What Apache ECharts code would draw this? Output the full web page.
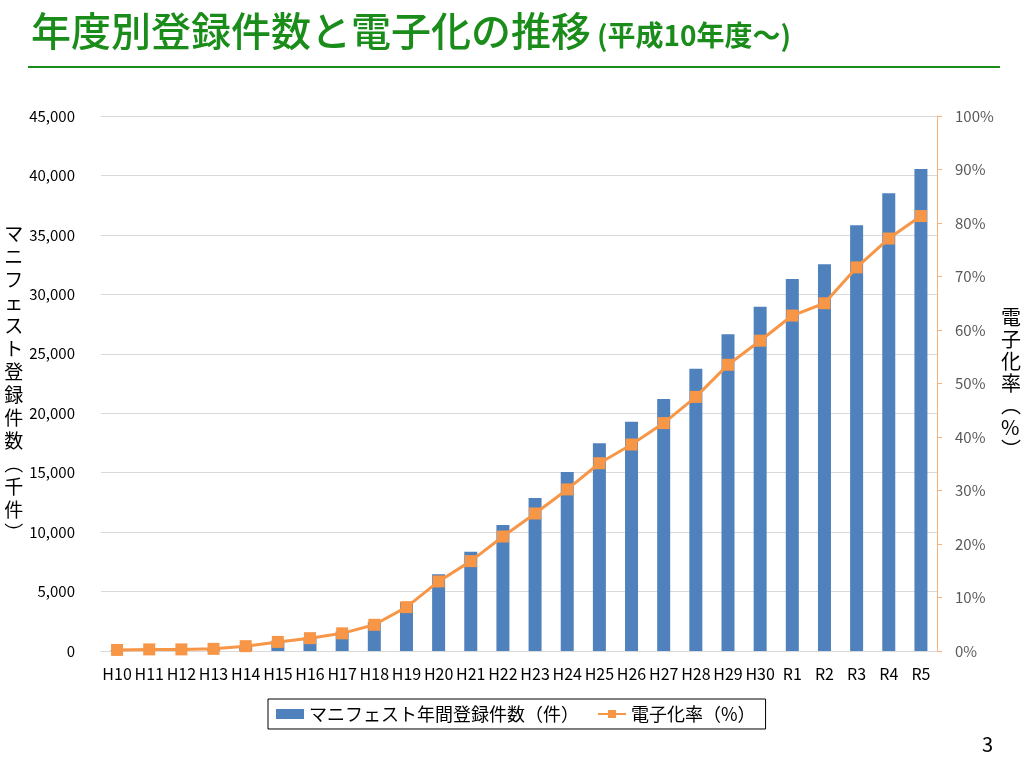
<!DOCTYPE html>
<html>
<head>
<meta charset="utf-8">
<script src="https://cdn.jsdelivr.net/npm/echarts@6/dist/echarts.min.js"></script>
<style>
html, body { margin: 0; padding: 0; background: #fff; }
#chart { width: 1024px; height: 759px; }
</style>
</head>
<body>
<div id="chart"></div>
<script>
const NENDO = ["H10","H11","H12","H13","H14","H15","H16","H17","H18","H19","H20","H21","H22",
"H23","H24","H25","H26","H27","H28","H29","H30","R1","R2","R3","R4","R5"];
// 登録件数（千件）
const TOUROKU = [90,150,160,190,430,870,1190,1650,2430,4100,6450,8350,10600,
12870,15060,17470,19290,21200,23750,26640,28960,31290,32520,35810,38500,40540];
// 電子化率（%）
const DENSHIKA = [0.2,0.3,0.3,0.4,0.9,1.7,2.4,3.3,4.9,8.2,13.0,16.8,21.4,
25.7,30.2,35.1,38.6,42.6,47.5,53.5,58.0,62.7,65.0,71.7,77.1,81.3];

const FONT = '"Noto Sans CJK JP", "Noto Sans", sans-serif';
const tate = s => s.split('').join('\n');

let option = {
    textStyle: { fontFamily: FONT },
    title: {
        left: 26,
        top: 6,
        text: '{a|年度別登録件数と電子化の推移}{b|(平成10年度～)}',
        textStyle: {
            rich: {
                a: { fontSize: 40, color: '#1a8c1a', fontWeight: 500, fontFamily: FONT },
                b: { fontSize: 28, color: '#1a8c1a', fontWeight: 'bold', fontFamily: FONT, padding: [8, 0, 0, 6] }
            }
        }
    },
    graphic: [
        { type: 'line', shape: { x1: 28, y1: 67, x2: 1000, y2: 67 },
          style: { stroke: '#1a8c1a', lineWidth: 2 } },
        { type: 'text', left: 982, top: 734,
          style: { text: '3', fontSize: 20, fill: '#000', fontFamily: FONT } }
    ],
    legend: {
        left: 268,
        top: 699,
        width: 502,
        padding: [6, 10, 6, 8],
        borderColor: '#000',
        borderWidth: 1,
        itemGap: 18,
        itemWidth: 28,
        itemHeight: 10,
        textStyle: { fontSize: 18, color: '#000', fontFamily: FONT },
        data: [
            { name: 'マニフェスト年間登録件数（件）', icon: 'rect' },
            { name: '電子化率（%）' }
        ]
    },
    grid: { left: 101, right: 87, top: 116, bottom: 108, outerBoundsMode: 'none', containLabel: false },
    xAxis: {
        type: 'category',
        data: NENDO,
        axisLine: { lineStyle: { color: '#d9d9d9' } },
        axisTick: { show: false },
        axisLabel: { interval: 0, fontSize: 16, color: '#000', margin: 15, fontFamily: FONT, hideOverlap: false }
    },
    yAxis: [
        {
            type: 'value',
            min: 0, max: 45000, interval: 5000,
            name: tate('マニフェスト登録件数︵千件︶'),
            nameLocation: 'middle',
            nameRotate: 0,
            nameGap: 76,
            nameTextStyle: { fontSize: 19, lineHeight: 23, color: '#000', fontFamily: FONT },
            axisLine: { show: false },
            axisTick: { show: false },
            splitLine: { lineStyle: { color: '#d9d9d9' } },
            axisLabel: {
                fontSize: 15, color: '#000', margin: 26, fontFamily: FONT,
                formatter: v => v.toLocaleString('en-US')
            }
        },
        {
            type: 'value',
            min: 0, max: 100, interval: 10,
            name: tate('電子化率︵%︶'),
            nameLocation: 'middle',
            nameRotate: 0,
            nameGap: 64,
            nameTextStyle: { fontSize: 20, lineHeight: 22, color: '#000', fontFamily: FONT },
            axisLine: { show: true, lineStyle: { color: '#f9b27c', width: 1 } },
            axisTick: { show: true, inside: false, length: 5, lineStyle: { color: '#f9b27c' } },
            splitLine: { show: false },
            axisLabel: { fontSize: 15, color: '#595959', margin: 18, fontFamily: FONT, formatter: '{value}%' }
        }
    ],
    series: [
        {
            name: 'マニフェスト年間登録件数（件）',
            type: 'bar',
            data: TOUROKU,
            barWidth: 13,
            itemStyle: { color: '#4f81bd' }
        },
        {
            name: '電子化率（%）',
            type: 'line',
            yAxisIndex: 1,
            data: DENSHIKA,
            symbol: 'rect',
            symbolSize: 12,
            lineStyle: { color: '#f79646', width: 3 },
            itemStyle: { color: '#f79646' },
            z: 4
        }
    ]
};

var myChart = echarts.init(document.getElementById('chart'));
myChart.setOption(option);
</script>
</body>
</html>
